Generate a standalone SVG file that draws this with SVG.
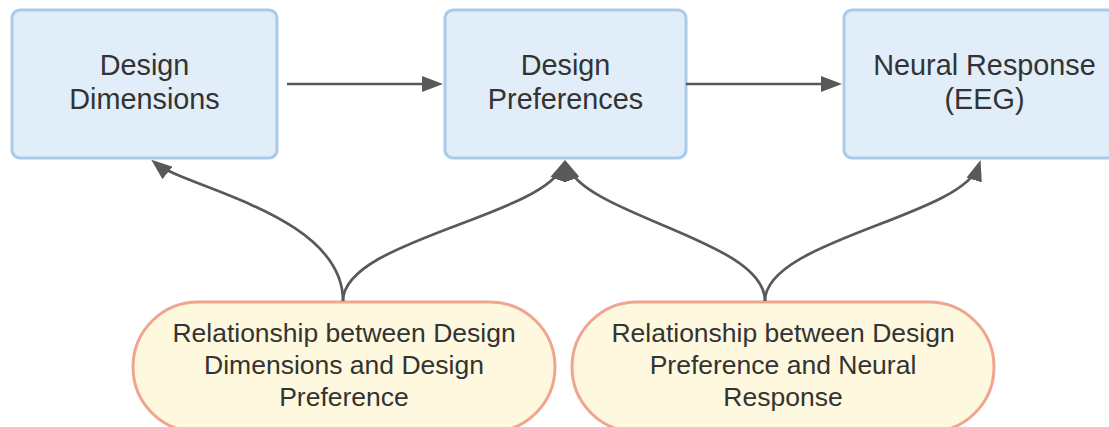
<svg xmlns="http://www.w3.org/2000/svg" width="1109" height="427" viewBox="0 0 1109 427">
  <style>
    .box { fill: #e1edf8; stroke: #a9cbe9; stroke-width: 3; }
    .pill { fill: #fdf8de; stroke: #f0a58e; stroke-width: 3; }
    .lbl { font-family: "Liberation Sans", Arial, sans-serif; fill: #333333; text-anchor: middle; }
    .big { font-size: 28.8px; }
    .small { font-size: 26.5px; }
    .wire { fill: none; stroke: #595959; stroke-width: 2.7; }
  </style>
  <defs>
    <marker id="arrow" markerUnits="userSpaceOnUse" markerWidth="21" markerHeight="16" viewBox="0 0 21 16" refX="16" refY="8" orient="auto">
      <path d="M0,0 L21,8 L0,16 z" fill="#595959"/>
    </marker>
  </defs>
  <rect width="1109" height="427" fill="#ffffff"/>

  <g id="design-dimensions">
    <rect class="box" x="12" y="10" width="265" height="148" rx="8"/>
    <text class="lbl big" x="144.5" y="75">Design</text>
    <text class="lbl big" x="144.5" y="109">Dimensions</text>
  </g>

  <g id="design-preferences">
    <rect class="box" x="445" y="10" width="241" height="148" rx="8"/>
    <text class="lbl big" x="565.5" y="75">Design</text>
    <text class="lbl big" x="565.5" y="109">Preferences</text>
  </g>

  <g id="neural-response">
    <rect class="box" x="844" y="10" width="281" height="148" rx="8"/>
    <text class="lbl big" x="984.5" y="75">Neural Response</text>
    <text class="lbl big" x="984.5" y="109">(EEG)</text>
  </g>

  <g id="rel-dimensions-preference">
    <rect class="pill" x="133" y="302" width="422" height="130" rx="65" ry="65"/>
    <text class="lbl small" x="344" y="342">Relationship between Design</text>
    <text class="lbl small" x="344" y="374">Dimensions and Design</text>
    <text class="lbl small" x="344" y="406">Preference</text>
  </g>

  <g id="rel-preference-response">
    <rect class="pill" x="572" y="302" width="422" height="130" rx="65" ry="65"/>
    <text class="lbl small" x="783" y="342">Relationship between Design</text>
    <text class="lbl small" x="783" y="374">Preference and Neural</text>
    <text class="lbl small" x="783" y="406">Response</text>
  </g>

  <g id="connectors">
    <path class="wire" d="M287,84 L438,84" marker-end="url(#arrow)"/>
    <path class="wire" d="M686,84 L837,84" marker-end="url(#arrow)"/>
    <path class="wire" d="M343,301 C343,215 186,188 155.1,162.9" marker-end="url(#arrow)"/>
    <path class="wire" d="M343,301 C343,240 544.5,216.4 563.3,164.7" marker-end="url(#arrow)"/>
    <path class="wire" d="M765,301 C765,240 585.5,216.4 566.7,164.7" marker-end="url(#arrow)"/>
    <path class="wire" d="M765,301 C765,240 962.5,217 979,164.8" marker-end="url(#arrow)"/>
  </g>
</svg>
